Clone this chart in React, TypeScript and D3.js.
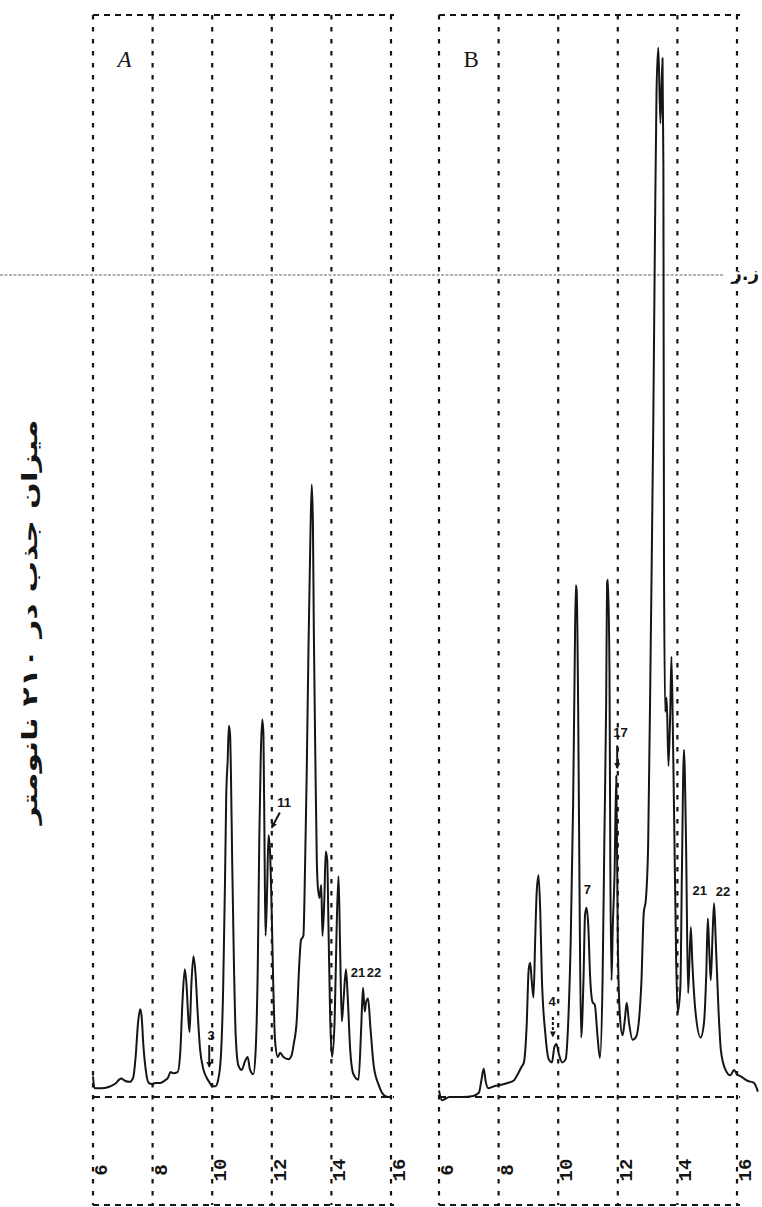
import { useEffect, useRef } from "react";
import * as d3 from "d3";

// elution time ticks (min)
const timeTicks = [6, 8, 10, 12, 14, 16];

// chromatogram A: [time, absorbance % of full scale]
const traceA: [number, number][] = [
  [6.0, 1.9], [6.05, 0.8], [6.28, 0.8], [6.5, 0.9], [6.73, 1.2], [6.95, 1.7],
  [7.07, 1.5], [7.23, 1.4], [7.35, 1.8], [7.43, 3.7], [7.51, 6.8], [7.58, 8.1],
  [7.63, 7.5], [7.69, 4.8], [7.77, 2.5], [7.87, 1.3], [7.98, 1.2], [8.1, 1.3],
  [8.25, 1.3], [8.4, 1.5], [8.52, 1.8], [8.6, 2.3], [8.69, 2.2], [8.84, 2.3],
  [8.93, 4.2], [9.0, 8.7], [9.08, 11.8], [9.14, 10.3], [9.2, 7.2], [9.24, 6.0],
  [9.3, 10.3], [9.37, 13.0], [9.44, 11.4], [9.51, 7.9], [9.59, 4.5], [9.7, 2.6],
  [9.81, 1.8], [9.92, 1.3], [10.0, 1.0], [10.11, 1.0], [10.2, 1.6], [10.29, 3.7],
  [10.37, 10.3], [10.43, 20.0], [10.47, 27.7], [10.52, 31.2], [10.56, 34.3],
  [10.6, 33.5], [10.63, 29.7], [10.67, 21.9], [10.73, 12.2], [10.79, 5.6],
  [10.88, 2.9], [10.99, 2.5], [11.1, 3.3], [11.19, 3.7], [11.27, 2.5], [11.38, 2.1],
  [11.46, 4.4], [11.53, 12.2], [11.58, 23.8], [11.63, 31.6], [11.68, 34.9],
  [11.72, 33.5], [11.76, 21.9], [11.79, 14.9], [11.84, 18.8], [11.89, 24.2],
  [11.94, 22.7], [11.99, 18.0], [12.05, 10.3], [12.11, 5.2], [12.2, 3.7],
  [12.28, 4.1], [12.39, 3.7], [12.56, 3.5], [12.67, 3.9], [12.73, 4.8],
  [12.84, 7.2], [12.92, 12.2], [12.98, 14.5], [13.06, 14.9], [13.12, 21.9],
  [13.17, 29.7], [13.23, 41.3], [13.29, 51.0], [13.34, 56.6], [13.38, 52.9],
  [13.41, 43.2], [13.46, 31.6], [13.51, 21.9], [13.54, 19.6], [13.6, 18.4],
  [13.66, 19.6], [13.7, 14.9], [13.76, 18.0], [13.81, 22.7], [13.86, 21.9],
  [13.9, 16.1], [13.96, 7.2], [14.02, 3.7], [14.11, 7.2], [14.18, 16.1],
  [14.24, 20.4], [14.29, 14.1], [14.35, 7.0], [14.41, 9.1], [14.49, 11.8],
  [14.55, 9.1], [14.63, 4.4], [14.74, 2.1], [14.91, 1.6], [15.0, 6.4],
  [15.06, 10.1], [15.12, 7.9], [15.16, 8.7], [15.23, 9.1], [15.31, 6.4],
  [15.42, 2.9], [15.59, 1.1], [15.75, 0.2], [15.9, 0.0], [16.0, 0.0],
];

// chromatogram B
const traceB: [number, number][] = [
  [6.0, 0.6], [6.1, -0.3], [6.35, 0.0], [6.8, 0.0], [7.15, 0.1], [7.34, 0.4],
  [7.42, 1.5], [7.5, 2.6], [7.57, 1.4], [7.65, 0.8], [7.85, 1.0], [8.05, 1.1],
  [8.3, 1.3], [8.5, 1.5], [8.66, 2.2], [8.77, 2.8], [8.85, 3.2], [8.94, 6.5],
  [9.01, 11.8], [9.06, 12.4], [9.11, 10.8], [9.17, 9.2], [9.23, 14.8], [9.28, 19.0],
  [9.34, 20.5], [9.4, 17.0], [9.45, 11.2], [9.57, 5.8], [9.68, 3.5], [9.79, 3.2],
  [9.87, 4.6], [9.94, 4.9], [10.02, 4.0], [10.13, 3.2], [10.25, 3.5], [10.33, 6.5],
  [10.42, 14.5], [10.5, 27.0], [10.55, 39.0], [10.59, 47.3], [10.62, 46.8],
  [10.67, 36.0], [10.72, 17.5], [10.77, 5.5], [10.85, 11.0], [10.9, 16.8],
  [10.95, 17.5], [11.01, 15.8], [11.07, 11.2], [11.15, 8.8], [11.23, 8.5],
  [11.32, 5.6], [11.4, 3.6], [11.49, 11.0], [11.55, 24.0], [11.61, 36.5],
  [11.64, 47.5], [11.67, 47.8], [11.72, 39.5], [11.75, 21.0], [11.79, 10.8],
  [11.83, 15.6], [11.89, 20.5], [11.95, 29.7], [12.0, 14.5], [12.07, 7.5],
  [12.16, 5.7], [12.23, 7.0], [12.3, 8.7], [12.37, 7.0], [12.5, 5.3], [12.62, 5.6],
  [12.79, 10.5], [12.87, 17.0], [12.94, 18.2], [13.02, 23.5], [13.11, 43.0],
  [13.19, 62.0], [13.25, 80.5], [13.3, 93.0], [13.36, 97.0], [13.43, 90.0],
  [13.5, 96.0], [13.53, 86.0], [13.55, 49.4], [13.59, 35.6], [13.64, 36.9],
  [13.7, 30.6], [13.76, 35.6], [13.8, 40.7], [13.85, 33.5], [13.9, 24.0],
  [13.96, 12.5], [14.01, 7.8], [14.1, 10.2], [14.15, 20.5], [14.22, 32.1],
  [14.29, 23.5], [14.36, 9.6], [14.45, 15.7], [14.5, 12.5], [14.61, 7.8],
  [14.78, 5.5], [14.89, 6.8], [14.97, 11.5], [15.02, 16.5], [15.07, 13.5],
  [15.12, 10.8], [15.18, 15.0], [15.23, 17.9], [15.29, 14.2], [15.38, 8.0],
  [15.46, 4.3], [15.6, 2.6], [15.78, 2.0], [15.9, 2.5], [16.0, 2.1], [16.13, 1.9],
  [16.35, 1.5], [16.57, 1.3], [16.7, 0.5],
];

// peak labels [text, time, value]
const labelsA: [string, number, number][] = [
  ["3", 9.96, 5.7],
  ["11", 12.41, 27.2],
  ["21", 14.89, 11.5],
  ["22", 15.43, 11.5],
];
const labelsB: [string, number, number][] = [
  ["4", 9.8, 8.8],
  ["7", 10.98, 19.2],
  ["17", 12.09, 33.7],
  ["21", 14.75, 19.1],
  ["22", 15.53, 19.0],
];
// arrows [t0, v0, t1, v1]
const arrowsA: [number, number, number, number][] = [
  [9.9, 4.8, 9.9, 2.8],
  [12.27, 26.3, 12.0, 24.9],
];
const arrowsB: [number, number, number, number][] = [
  [9.82, 7.4, 9.82, 5.6],
  [11.98, 32.5, 11.98, 30.4],
];

const yLabel = "میزان جذب در ۲۱۰ نانومتر";
const refMark = "ز.ز";

export default function App() {
  const ref = useRef<SVGSVGElement>(null);

  useEffect(() => {
    if (!ref.current) return;
    const svg = d3.select(ref.current);
    svg.selectAll("*").remove();

    const W = 762;
    const H = 1207;
    const yTop = 15;
    const yBottom = 1205;
    const ink = "#151515";

    const y = d3.scaleLinear().domain([0, 100]).range([1097, 15]);

    svg.attr("width", W).attr("height", H).attr("viewBox", `0 0 ${W} ${H}`);
    svg.append("rect").attr("width", W).attr("height", H).attr("fill", "#fff");

    const defs = svg.append("defs");
    defs
      .append("marker")
      .attr("id", "head")
      .attr("viewBox", "0 0 6 6")
      .attr("refX", 5)
      .attr("refY", 3)
      .attr("markerWidth", 6)
      .attr("markerHeight", 6)
      .attr("markerUnits", "userSpaceOnUse")
      .attr("orient", "auto")
      .append("path")
      .attr("d", "M0,0 L6,3 L0,6 Z")
      .attr("fill", ink);

    // thin reference line across both panels
    svg
      .append("line")
      .attr("x1", 0)
      .attr("x2", 724)
      .attr("y1", 275)
      .attr("y2", 275)
      .attr("stroke", "#555")
      .attr("stroke-width", 0.9)
      .attr("stroke-dasharray", "3 1.5");

    svg
      .append("text")
      .attr("x", 759)
      .attr("y", 280)
      .attr("text-anchor", "end")
      .attr("font-family", "DejaVu Sans")
      .attr("font-weight", "bold")
      .attr("font-size", 18)
      .attr("fill", ink)
      .text(refMark);

    // y axis title
    svg
      .append("text")
      .attr("transform", "translate(30,622) rotate(-90)")
      .attr("text-anchor", "middle")
      .attr("dominant-baseline", "central")
      .attr("font-family", "DejaVu Sans")
      .attr("font-weight", "bold")
      .attr("font-size", 21)
      .attr("textLength", 405)
      .attr("lengthAdjust", "spacingAndGlyphs")
      .attr("fill", ink)
      .text(yLabel);

    const panel = (
      range: [number, number],
      trace: [number, number][],
      letter: string,
      italic: boolean,
      labels: [string, number, number][],
      arrows: [number, number, number, number][],
      dottedArrow: boolean,
    ) => {
      const x = d3.scaleLinear().domain([6, 16]).range(range);
      const g = svg.append("g");

      // vertical grid
      g.selectAll("line.v")
        .data(timeTicks)
        .join("line")
        .attr("class", "v")
        .attr("x1", (d) => x(d))
        .attr("x2", (d) => x(d))
        .attr("y1", yTop)
        .attr("y2", yBottom)
        .attr("stroke", ink)
        .attr("stroke-width", 2.2)
        .attr("stroke-dasharray", "4.5 7.5");

      // top, baseline and bottom rules
      [
        { yy: yTop, dash: "6 5" },
        { yy: y(0), dash: "7 5" },
        { yy: yBottom, dash: "6 5" },
      ].forEach(({ yy, dash }) => {
        g.append("line")
          .attr("x1", x(6))
          .attr("x2", x(16) + 3)
          .attr("y1", yy)
          .attr("y2", yy)
          .attr("stroke", ink)
          .attr("stroke-width", 2.1)
          .attr("stroke-dasharray", dash);
      });

      // tick labels, rotated
      g.selectAll("text.tick")
        .data(timeTicks)
        .join("text")
        .attr("class", "tick")
        .attr("transform", (d) => `translate(${x(d) + 9},1170) rotate(-90)`)
        .attr("text-anchor", "middle")
        .attr("dominant-baseline", "central")
        .attr("font-family", "Liberation Mono")
        .attr("font-weight", "bold")
        .attr("font-size", 19)
        .attr("fill", ink)
        .text((d) => d);

      // trace
      const line = d3
        .line<[number, number]>()
        .x((d) => x(d[0]))
        .y((d) => y(d[1]))
        .curve(d3.curveMonotoneX);
      g.append("path")
        .attr("d", line(trace))
        .attr("fill", "none")
        .attr("stroke", ink)
        .attr("stroke-width", 2)
        .attr("stroke-linejoin", "round");

      // panel letter
      g.append("text")
        .attr("x", x(6.82))
        .attr("y", 67)
        .attr("font-family", "Liberation Serif")
        .attr("font-style", italic ? "italic" : "normal")
        .attr("font-size", 23)
        .attr("fill", ink)
        .text(letter);

      // peak numbers
      g.selectAll("text.pk")
        .data(labels)
        .join("text")
        .attr("class", "pk")
        .attr("x", (d) => x(d[1]))
        .attr("y", (d) => y(d[2]))
        .attr("text-anchor", "middle")
        .attr("dominant-baseline", "central")
        .attr("font-family", "Liberation Sans Narrow, Liberation Sans")
        .attr("font-weight", "bold")
        .attr("font-size", 13)
        .attr("fill", ink)
        .text((d) => d[0]);

      g.selectAll("line.arr")
        .data(arrows)
        .join("line")
        .attr("class", "arr")
        .attr("x1", (d) => x(d[0]))
        .attr("y1", (d) => y(d[1]))
        .attr("x2", (d) => x(d[2]))
        .attr("y2", (d) => y(d[3]))
        .attr("stroke", ink)
        .attr("stroke-width", 2)
        .attr("stroke-dasharray", (_, i) => (dottedArrow && i === 0 ? "3 2" : null))
        .attr("marker-end", "url(#head)");
    };

    panel([93, 391], traceA, "A", true, labelsA, arrowsA, false);
    panel([439, 737], traceB, "B", false, labelsB, arrowsB, true);
  }, []);

  return (
    <div style={{ position: "absolute", left: 0, top: 0 }}>
      <svg ref={ref} />
    </div>
  );
}
